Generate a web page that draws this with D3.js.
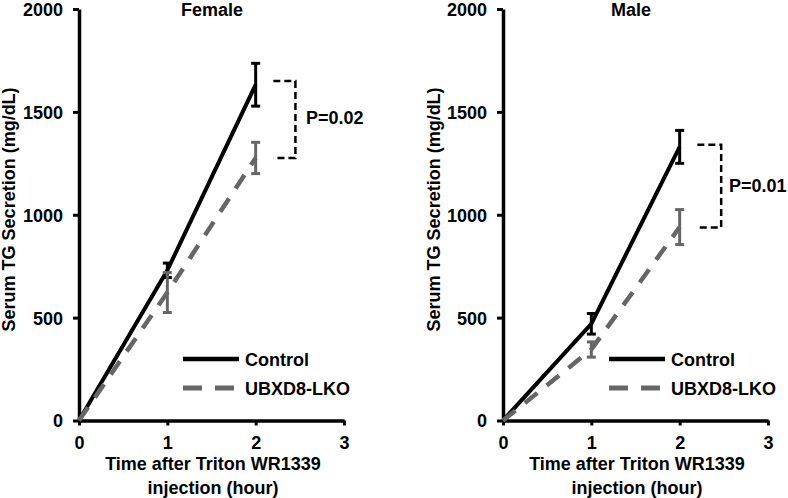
<!DOCTYPE html>
<html><head><meta charset="utf-8">
<script src="https://cdn.jsdelivr.net/npm/d3@7"></script>
<style>
body{margin:0;background:#fff;}
text{font-family:"Liberation Sans",Arial,sans-serif;font-weight:bold;font-size:18px;fill:#000;}
</style></head><body>
<svg id="c" width="788" height="498"></svg>
<script>
const hours = [0, 1, 2];
const xTicks = [0, 1, 2, 3];
const yTicks = [0, 500, 1000, 1500, 2000];
const panels = ["Female", "Male"];
const seriesNames = ["Control", "UBXD8-LKO"];
const femaleControl = [0, 730, 1632];
const femaleControlErr = [0, 35, 104];
const femaleKO = [0, 622, 1276];
const femaleKOErr = [0, 97, 76];
const maleControl = [0, 470, 1330];
const maleControlErr = [0, 50, 80];
const maleKO = [0, 345, 940];
const maleKOErr = [0, 37, 85];
const pValues = ["P=0.02", "P=0.01"];
const bracketFemale = [1650, 1276];
const bracketMale = [1340, 938];

const svg = d3.select("#c");
const colors = ["#000", "#666"];

const layout = [
  {x0: 79, x1: 344, ylab: 9, title: 212, xlab: 213, leg: 183, bx: [2.2, 2.45], px: 306, py: 124},
  {x0: 503, x1: 768, ylab: 434, title: 631, xlab: 637, leg: 609, bx: [2.2, 2.47], px: 729, py: 192}
];
const data = [
  {c: femaleControl, ce: femaleControlErr, k: femaleKO, ke: femaleKOErr, br: bracketFemale},
  {c: maleControl, ce: maleControlErr, k: maleKO, ke: maleKOErr, br: bracketMale}
];

panels.forEach((name, i) => {
  const L = layout[i], D = data[i];
  const x = d3.scaleLinear().domain([0, 3]).range([L.x0, L.x1]);
  const y = d3.scaleLinear().domain([0, 2000]).range([420.5, 9]);
  const g = svg.append("g");

  const ya = g.append("g").attr("transform", `translate(${L.x0},0)`)
    .call(d3.axisLeft(y).tickValues(yTicks).tickFormat(d3.format("d")).tickSize(6).tickSizeOuter(0).tickPadding(10));
  const xa = g.append("g").attr("transform", `translate(0,420.5)`)
    .call(d3.axisBottom(x).tickValues(xTicks).tickFormat(d3.format("d")).tickSize(5).tickSizeOuter(0).tickPadding(6));
  [ya, xa].forEach(a => {
    a.attr("font-size", null).attr("font-family", null);
    a.select(".domain").attr("stroke", "#000").attr("stroke-width", 3.5);
    a.selectAll(".tick line").attr("stroke", "#000").attr("stroke-width", 3);
    a.selectAll(".tick text").attr("fill", "#000");
  });
  xa.selectAll(".tick text").attr("dy", "0.95em");
  ya.selectAll(".tick text").attr("dy", "0.36em");

  g.append("text").attr("x", L.title).attr("y", 16).attr("text-anchor", "middle").text(name);
  g.append("text").attr("transform", `translate(${L.ylab},${y(1026)}) rotate(-90)`)
    .attr("text-anchor", "middle").attr("dominant-baseline", "central").text("Serum TG Secretion (mg/dL)");
  g.append("text").attr("x", L.xlab).attr("y", 470).attr("text-anchor", "middle").text("Time after Triton WR1339");
  g.append("text").attr("x", L.xlab).attr("y", 494).attr("text-anchor", "middle").text("injection (hour)");

  const line = d3.line().x((d, j) => x(hours[j])).y(d => y(d));
  const series = [{v: D.c, e: D.ce}, {v: D.k, e: D.ke}];
  series.forEach((s, si) => {
    const col = colors[si];
    g.append("path").datum(s.v).attr("d", line).attr("fill", "none").attr("stroke", col)
      .attr("stroke-width", si === 0 ? 4 : 4.5)
      .attr("stroke-dasharray", si === 0 ? null : "16,12");
    hours.forEach((h, j) => {
      if (s.e[j] <= 0) return;
      const cx = x(h), t = y(s.v[j] + s.e[j]), b = y(s.v[j] - s.e[j]);
      g.append("line").attr("x1", cx).attr("x2", cx).attr("y1", t).attr("y2", b).attr("stroke", col).attr("stroke-width", 3);
      [t, b].forEach(yy => g.append("line").attr("x1", cx - 4.5).attr("x2", cx + 4.5).attr("y1", yy).attr("y2", yy).attr("stroke", col).attr("stroke-width", 3));
    });
  });

  const bp = d3.path();
  bp.moveTo(x(L.bx[0]), y(D.br[0]));
  bp.lineTo(x(L.bx[1]), y(D.br[0]));
  bp.lineTo(x(L.bx[1]), y(D.br[1]));
  bp.lineTo(x(L.bx[0]), y(D.br[1]));
  g.append("path").attr("d", bp.toString()).attr("fill", "none").attr("stroke", "#000")
    .attr("stroke-width", 2.5).attr("stroke-dasharray", "7,4");
  g.append("text").attr("x", L.px).attr("y", L.py).text(pValues[i]);

  seriesNames.forEach((sn, si) => {
    const ly = 359 + si * 29;
    g.append("line").attr("x1", L.leg).attr("x2", L.leg + 56).attr("y1", ly).attr("y2", ly)
      .attr("stroke", colors[si]).attr("stroke-width", si === 0 ? 4.5 : 5)
      .attr("stroke-dasharray", si === 0 ? null : "19,13");
    g.append("text").attr("x", L.leg + 62).attr("y", ly + 6.5).text(sn);
  });
});
</script></body></html>
